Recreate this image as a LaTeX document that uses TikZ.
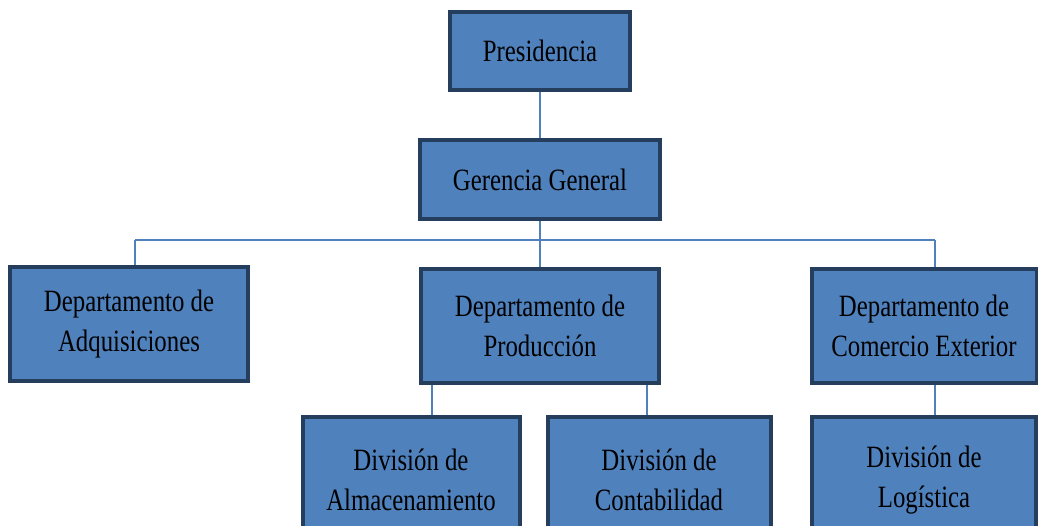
\documentclass[tikz,border=0pt]{standalone}
\usepackage{fontspec}
\setmainfont[FakeStretch=0.8]{Liberation Serif}
\usetikzlibrary{backgrounds,shadows}
\definecolor{boxfill}{HTML}{4F81BD}
\definecolor{boxline}{HTML}{263E5E}
\definecolor{linkblue}{HTML}{4F81BD}
\tikzset{
  unit/.style={draw=boxline, line width=4pt, fill=boxfill, align=center,
    font=\fontsize{31}{40}\selectfont, inner sep=0pt,
    drop shadow={opacity=0.2, shadow xshift=2pt, shadow yshift=-2pt}},
  link/.style={draw=linkblue, line width=1.6pt}
}
\begin{document}
\begin{tikzpicture}[x=1pt,y=-1pt]
        \useasboundingbox (0,0) rectangle (1038,526);
        \clip (0,0) rectangle (1038,526);
        \node[unit, minimum width=180pt, minimum height=78pt] (pres) at (540,51) {Presidencia};
        \node[unit, minimum width=240pt, minimum height=79pt] (ger) at (540,180) {Gerencia General};
        \node[unit, minimum width=238pt, minimum height=113pt] (adq) at (129,324) {Departamento de\\Adquisiciones};
        \node[unit, minimum width=238pt, minimum height=113pt] (prod) at (540,326) {Departamento de\\Producción};
        \node[unit, minimum width=225pt, minimum height=113pt] (com) at (924,326) {Departamento de\\Comercio Exterior};
        \node[unit, minimum width=217pt, minimum height=126pt] (alm) at (411,480) {División de\\Almacenamiento};
        \node[unit, minimum width=223pt, minimum height=126pt] (cont) at (659,480) {División de\\Contabilidad};
        \node[unit, minimum width=224pt, minimum height=126pt] (log) at (924,480) {División de\\Logística};
        \coordinate (busL) at (135,240);
        \coordinate (busR) at (935,240);
        \coordinate (prodL) at (432,0);
        \coordinate (prodR) at (647,0);
        \begin{scope}[on background layer]
            \draw[link] (pres) -- (ger);
            \draw[link] (ger) -- (prod);
            \draw[link] (busL) -- (busR);
            \draw[link] (busL) -- (busL |- adq.north);
            \draw[link] (busR) -- (busR |- com.north);
            \draw[link] (prod.south -| prodL) -- (alm.north -| prodL);
            \draw[link] (prod.south -| prodR) -- (cont.north -| prodR);
            \draw[link] (com.south -| busR) -- (log.north -| busR);
        \end{scope}
    \end{tikzpicture}
\end{document}
